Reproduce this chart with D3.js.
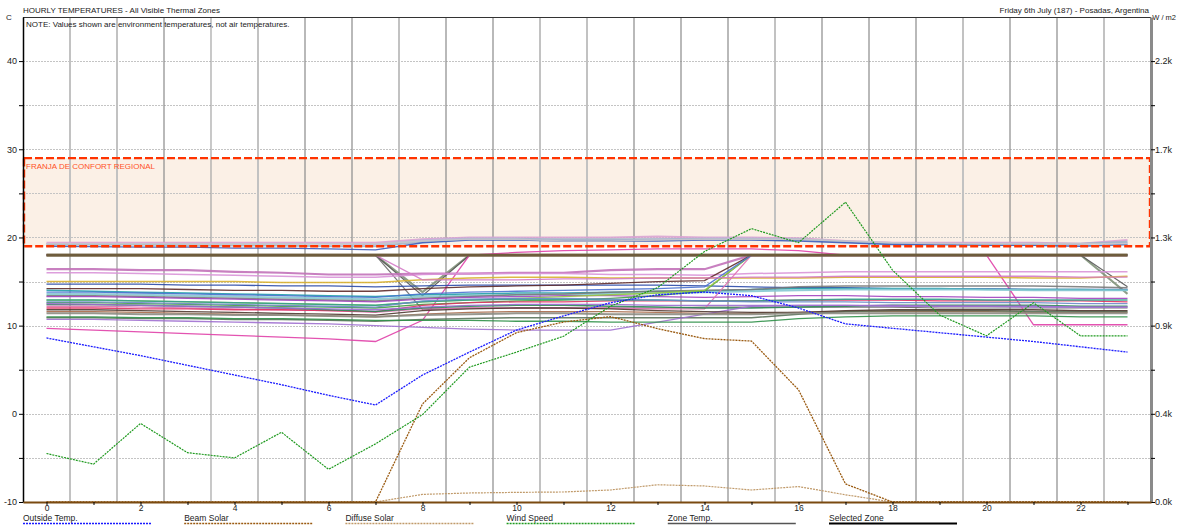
<!DOCTYPE html>
<html><head><meta charset="utf-8">
<script src="https://cdn.jsdelivr.net/npm/d3@7"></script>
<style>
html,body{margin:0;padding:0;background:#fff;}
svg{display:block;font-family:"Liberation Sans",Arial,sans-serif;}
</style></head>
<body>
<svg id="chart" width="1178" height="525"></svg>
<script>
// ---------------- DATA ----------------
const hours = d3.range(0, 24);
const xTickLabels = ["0","2","4","6","8","10","12","14","16","18","20","22"];
const leftTickValues = [-10,-5,0,5,10,15,20,25,30,35,40];
const leftTickLabels = ["-10","","0","","10","","20","","30","","40"];
const rightTickValues = [0,220,440,660,880,1100,1320,1540,1760,1980,2200];
const rightTickLabels = ["0.0k","","0.4k","","0.9k","","1.3k","","1.7k","","2.2k"];
const comfortBand = [19, 29];
const comfortLabel = "FRANJA DE CONFORT REGIONAL";

const outsideTemp = [8.6,7.6,6.6,5.5,4.4,3.3,2.1,1.0,4.4,7.0,9.5,11.1,12.6,13.5,13.8,13.4,12.0,10.2,9.7,9.2,8.7,8.2,7.6,7.0];
const beamSolar   = [0,0,0,0,0,0,0,0,489,720,845,898,925,865,815,803,560,90,0,0,0,0,0,0];
const diffuseSolar= [0,0,0,0,0,0,0,0,38,45,48,50,60,86,80,60,77,36,0,0,0,0,0,0];
const windSpeed   = [2.42,1.89,3.92,2.46,2.20,3.48,1.63,2.90,4.36,6.73,7.48,8.27,9.77,10.69,12.50,13.64,12.94,14.96,11.57,9.33,8.29,9.94,8.29,8.29];

const zoneNames = ["Z01","Z02","Z03","Z04","Z05","Z06","Z07","Z08","Z09","Z10","Z11","Z12","Z13","Z14","Z15","Z16","Z17","Z18","Z19","Z20","Z21","Z22","Z23","Z24","Z25","Z26","Z27","Z28","Z29","Z30","Z31","Z32","Z33","Z34","Z35"];
const zoneTemps = [
 [19.4,19.4,19.4,19.4,19.4,19.4,19.4,19.4,19.8,20.0,20.0,20.0,20.0,20.1,20.0,20.0,19.9,19.6,19.4,19.4,19.4,19.4,19.3,19.7],
 [19.3,19.3,19.3,19.3,19.3,19.3,19.3,19.2,19.7,19.9,19.9,19.7,19.7,19.8,19.9,19.9,19.8,19.5,19.4,19.3,19.3,19.3,19.3,19.4],
 [19.2,19.2,19.2,19.1,19.1,19.1,19.0,19.0,19.5,19.8,19.8,19.8,19.8,19.8,19.8,19.8,19.8,19.5,19.3,19.3,19.3,19.3,19.3,19.5],
 [19.0,18.95,18.9,18.9,18.8,18.8,18.7,18.6,19.4,19.7,19.7,19.6,19.6,19.6,19.7,19.7,19.6,19.4,19.2,19.2,19.1,19.1,19.0,19.2],
 [19.3,19.3,19.3,19.3,19.3,19.3,19.3,19.3,19.6,19.8,19.8,19.6,19.6,19.7,19.8,19.8,19.8,19.6,19.4,19.3,19.3,19.3,19.3,19.3],
 [18,18,18,18,18,18,18,18,18,18,18,18,18,18,18,18,18,18,18,18,18,18,18,18],
 [18,18,18,18,18,18,18,18,13.8,18,18,18,18,18,18,18,18,18,18,18,18,18,18,13.6],
 [18,18,18,18,18,18,18,18,13.4,18,18,18,18,18,18,18,18,18,18,18,18,18,18,14.4],
 [18,18,18,18,18,18,18,18,11.8,12.0,12.0,12.0,12.0,12.0,12.1,12.1,12.1,12.1,12.1,12.0,12.0,12.0,12.0,12.0],
 [9.7,9.5,9.3,9.1,8.9,8.7,8.5,8.2,10.6,18.0,18.3,18.5,18.6,18.7,18.7,18.7,18.5,18.0,18.0,18.0,18.0,10.1,10.1,10.1],
 [16.4,16.4,16.3,16.3,16.1,16.0,15.8,15.8,15.9,15.9,16.0,16.0,16.3,16.4,16.4,18,18,18,18,18,18,18,18,18],
 [16.0,16.0,15.9,15.8,15.7,15.6,15.5,15.5,15.8,15.9,15.9,15.9,15.8,15.8,15.7,15.9,16.0,16.1,16.1,16.1,16.1,16.1,16.1,16.1],
 [15.0,15.0,15.0,15.0,15.0,14.9,14.9,14.9,15.2,15.4,15.5,15.5,15.4,15.4,15.4,15.4,15.4,15.5,15.5,15.5,15.5,15.4,15.4,15.6],
 [14.7,14.7,14.7,14.6,14.6,14.5,14.5,14.4,14.5,14.6,14.6,14.6,14.6,14.6,14.5,14.4,14.3,14.3,14.2,14.2,14.2,14.1,14.1,14.1],
 [14.2,14.2,14.2,14.1,14.0,14.0,13.9,13.9,14.2,14.4,14.5,14.6,14.8,15.0,15.1,18,18,18,18,18,18,18,18,18],
 [14.0,13.9,13.8,13.7,13.6,13.5,13.4,13.3,13.5,13.6,13.7,13.7,13.8,13.9,13.9,14.1,14.2,14.2,14.2,14.2,14.1,14.1,14.1,14.0],
 [13.6,13.6,13.5,13.4,13.3,13.2,13.1,13.0,13.3,13.4,13.5,13.6,13.6,13.7,13.8,13.9,14.0,14.1,14.1,14.1,14.1,14.0,14.0,14.0],
 [13.4,13.4,13.3,13.2,13.1,13.0,12.9,12.8,13.1,13.3,13.5,13.6,13.8,13.9,14.0,14.1,14.4,14.5,14.5,14.5,14.5,14.5,14.4,14.3],
 [13.3,13.3,13.2,13.1,13.0,12.9,12.8,12.7,13.0,13.2,13.3,13.4,13.4,13.3,13.2,13.3,13.4,13.4,13.3,13.3,13.2,13.2,13.1,13.1],
 [12.6,12.6,12.5,12.4,12.3,12.2,12.1,12.0,12.4,12.6,12.8,12.9,13.1,13.4,13.9,18,18,18,18,18,18,18,18,18],
 [12.9,12.9,12.8,12.7,12.6,12.5,12.4,12.3,12.7,12.9,13.1,13.3,13.5,13.7,14.0,18,18,18,18,18,18,18,18,18],
 [12.2,12.2,12.1,12.0,11.9,11.8,11.7,11.5,11.9,12.0,12.0,12.0,12.0,11.9,11.9,18,18,18,18,18,18,18,18,18],
 [13.8,13.8,13.7,13.6,13.5,13.4,13.3,13.2,13.6,13.8,13.9,14.0,14.1,14.2,14.4,18,18,18,18,18,18,18,18,18],
 [12.0,12.0,11.9,11.9,11.8,11.8,11.7,11.6,12.3,12.6,12.7,12.7,12.8,12.8,12.8,12.8,12.9,12.9,12.9,12.8,12.8,12.8,12.8,12.7],
 [12.4,12.4,12.3,12.2,12.1,12.0,11.8,11.6,12.0,12.2,12.3,12.3,12.2,12.1,12.0,12.0,12.1,12.2,12.3,12.3,12.3,12.3,12.2,12.2],
 [12.9,12.9,12.8,12.7,12.6,12.5,12.4,12.3,12.7,12.9,13.0,13.0,12.9,12.9,12.8,12.8,12.9,13.0,13.0,13.0,12.9,12.9,12.9,12.9],
 [12.7,12.7,12.6,12.5,12.4,12.3,12.2,12.1,12.8,13.0,13.1,13.1,13.0,12.9,12.8,12.7,12.7,12.7,12.6,12.6,12.6,12.6,12.5,12.5],
 [12.5,12.4,12.3,12.2,12.1,12.0,11.9,11.8,12.1,12.3,12.4,12.4,12.4,12.3,12.3,12.3,12.3,12.3,12.3,12.2,12.2,12.2,12.1,12.1],
 [11.6,11.6,11.5,11.4,11.3,11.2,11.1,11.0,11.3,11.5,11.6,11.6,11.6,11.5,11.4,11.4,11.5,11.6,11.6,11.6,11.6,11.5,11.5,11.5],
 [10.9,10.9,10.8,10.8,10.7,10.7,10.6,10.5,10.7,10.8,10.9,10.9,10.9,10.9,10.9,10.9,11.3,11.6,11.7,11.7,11.7,11.6,11.6,11.6],
 [10.7,10.7,10.6,10.5,10.4,10.3,10.2,10.0,9.8,9.6,9.5,9.5,9.5,10.4,11.3,12.2,12.3,12.3,12.2,12.2,12.2,12.1,12.1,12.1],
 [11.8,11.8,11.7,11.6,11.5,11.4,11.3,11.2,11.7,11.9,12.0,12.0,11.9,11.7,11.6,11.5,11.5,11.7,11.8,11.8,11.8,11.8,11.7,11.7],
 [11.4,11.4,11.3,11.3,11.2,11.2,11.1,11.0,11.2,11.3,11.4,11.4,11.3,11.3,11.3,11.3,11.4,11.4,11.4,11.4,11.4,11.4,11.4,11.4],
 [11.0,11.0,10.9,10.9,10.8,10.8,10.7,10.6,10.6,10.6,10.5,10.5,10.4,10.4,10.4,10.4,10.8,11.0,11.1,11.1,11.1,11.1,11.0,11.0],
 [18,18,18,18,18,18,18,18,15.2,15.2,15.2,15.3,15.3,15.4,15.4,15.5,15.5,15.6,15.6,15.6,15.6,15.6,15.5,15.5]
];
const legendItems = ["Outside Temp.","Beam Solar","Diffuse Solar","Wind Speed","Zone Temp.","Selected Zone"];

// ---------------- STYLES ----------------
const zoneColors = ["#d9a3d3","#bdb3dc","#a3b5ca","#3a5bbb","#c6c6cc","#6e5c3c","#82937a","#555555","#6a6a6a","#e040a8",
 "#c272b9","#d994d8","#d8b030","#2a4aa8","#5e2a2a","#22a0a8","#86c8d2","#7a7a7a","#a244c0","#42a042",
 "#98c840","#e070b0","#4a72d0","#e03262","#2f8858","#32a08a","#6a8ac8","#9a6ad0","#a96a4a","#5a725a",
 "#a070d0","#503830","#8c8c82","#2f9048","#d47ac6"];
const zoneWidths = [2,1.5,2,1.3,1.5,2.6,2,1.2,1.2,1.3,2.2,1.5,1.5,1.3,1.3,1.5,2,1.5,1.3,1.3,1.3,1.3,1.3,1.3,1.5,1.5,1.3,1.3,1.3,1.5,1.3,1.3,2,1.3,1.3];
const gridShade = ["L","L","D","M","L","D","D","L","D","D","L","L","D","D","D","L","D","D","D","L","D","D","L"];

const svg = d3.select("#chart");
const pLeft = 23, pRight = 1151, pTop = 17, pBottom = 502;

const x = d3.scaleLinear().domain([-0.5, 23.5]).range([pLeft, pRight]);
const yT = d3.scaleLinear().domain([-10, 45]).range([pBottom, pTop]);
const yW = d3.scaleLinear().domain([0, 2420]).range([pBottom, pTop]);
const yWind = d3.scaleLinear().domain([0, 24.2]).range([pBottom, pTop]);

// comfort band fill
svg.append("rect")
  .attr("x", pLeft).attr("width", pRight - pLeft)
  .attr("y", yT(comfortBand[1])).attr("height", yT(comfortBand[0]) - yT(comfortBand[1]))
  .attr("fill", "#fbf0e6");

// horizontal dotted gridlines
svg.append("g").selectAll("line").data(leftTickValues).join("line")
  .attr("x1", pLeft).attr("x2", pRight)
  .attr("y1", d => Math.round(yT(d)) + 0.5).attr("y2", d => Math.round(yT(d)) + 0.5)
  .attr("stroke", "#c4c4c4").attr("stroke-width", 1).attr("stroke-dasharray", "2,1");

// vertical half-hour lines
svg.append("g").selectAll("line").data(d3.range(1, 24)).join("line")
  .attr("x1", d => x(d - 0.5)).attr("x2", d => x(d - 0.5))
  .attr("y1", pTop).attr("y2", pBottom)
  .attr("stroke", (d, i) => gridShade[i] === "L" ? "#c2c2c2" : gridShade[i] === "M" ? "#a4a4a4" : "#8a8a8a")
  .attr("stroke-width", (d, i) => gridShade[i] === "L" ? 2 : 1.2);

// band label
svg.append("text").attr("x", pLeft + 3).attr("y", yT(comfortBand[1]) + 11)
  .attr("font-size", 8).attr("fill", "#ff5226").text(comfortLabel);

// zone lines
const lineT = d3.line().x((d, i) => x(hours[i])).y(d => yT(d));
svg.append("g").selectAll("path").data(zoneTemps).join("path")
  .attr("d", lineT).attr("fill", "none")
  .attr("stroke", (d, i) => zoneColors[i])
  .attr("stroke-width", (d, i) => zoneWidths[i])
  .attr("stroke-opacity", 0.9);

// redraw the 18° main line on top
svg.append("path").datum(zoneTemps[5]).attr("d", lineT).attr("fill", "none")
  .attr("stroke", zoneColors[5]).attr("stroke-width", 2.6);

// weather lines
const lineW = d3.line().x((d, i) => x(hours[i])).y(d => yW(d));
const lineWind = d3.line().x((d, i) => x(hours[i])).y(d => yWind(d));
svg.append("path").datum(diffuseSolar).attr("d", lineW).attr("fill", "none")
  .attr("stroke", "#c09a6a").attr("stroke-width", 1.2).attr("stroke-dasharray", "2,1");
svg.append("path").datum(beamSolar).attr("d", lineW).attr("fill", "none")
  .attr("stroke", "#9a5a10").attr("stroke-width", 1.3).attr("stroke-dasharray", "2,1");
svg.append("path").datum(windSpeed).attr("d", lineWind).attr("fill", "none")
  .attr("stroke", "#1f9a1f").attr("stroke-width", 1.2).attr("stroke-dasharray", "2,1");
svg.append("path").datum(outsideTemp).attr("d", lineT).attr("fill", "none")
  .attr("stroke", "#1a1aff").attr("stroke-width", 1.3).attr("stroke-dasharray", "2,1");

// comfort band border
svg.append("rect")
  .attr("x", pLeft + 1).attr("width", pRight - pLeft - 2)
  .attr("y", yT(comfortBand[1])).attr("height", yT(comfortBand[0]) - yT(comfortBand[1]))
  .attr("fill", "none").attr("stroke", "#ff3300").attr("stroke-width", 2.4).attr("stroke-dasharray", "8,3");

// top border
svg.append("line").attr("x1", pLeft).attr("x2", pRight).attr("y1", pTop + 0.5).attr("y2", pTop + 0.5)
  .attr("stroke", "#333").attr("stroke-width", 1);

// axes
const axL = svg.append("g").attr("transform", `translate(${pLeft},0)`)
  .call(d3.axisLeft(yT).tickValues(leftTickValues).tickFormat((d, i) => leftTickLabels[i]).tickSize(4).tickSizeOuter(0));
axL.select(".domain").attr("stroke", "#000").attr("stroke-width", 1.5);
axL.selectAll("text").attr("font-size", 9).attr("fill", "#222").attr("x", -6);

const axR = svg.append("g").attr("transform", `translate(${pRight},0)`)
  .call(d3.axisRight(yW).tickValues(rightTickValues).tickFormat((d, i) => rightTickLabels[i]).tickSize(4).tickSizeOuter(0));
axR.select(".domain").attr("stroke", "#8a8a8a").attr("stroke-width", 3);
axR.selectAll("text").attr("font-size", 9).attr("fill", "#222").attr("x", 4);

const axB = svg.append("g").attr("transform", `translate(0,${pBottom})`)
  .call(d3.axisBottom(x).tickValues(hours).tickFormat(d => d % 2 === 0 ? xTickLabels[d / 2] : "").tickSize(3).tickSizeOuter(0));
axB.select(".domain").attr("stroke", "#7a4a10").attr("stroke-width", 2);
axB.selectAll("text").attr("font-size", 8.5).attr("fill", "#222").attr("y", 2.5);

// titles
svg.append("text").attr("x", pLeft).attr("y", 12.5).attr("font-size", 8).attr("fill", "#222")
  .text("HOURLY TEMPERATURES - All Visible Thermal Zones");
svg.append("text").attr("x", 6).attr("y", 20).attr("font-size", 8).attr("fill", "#222").text("C");
svg.append("text").attr("x", pLeft + 3).attr("y", 26.5).attr("font-size", 8).attr("fill", "#222")
  .text("NOTE: Values shown are environment temperatures, not air temperatures.");
svg.append("text").attr("x", pRight - 2).attr("y", 12.5).attr("text-anchor", "end").attr("font-size", 8).attr("fill", "#222")
  .text("Friday 6th July (187) - Posadas, Argentina");
svg.append("text").attr("x", 1176).attr("y", 19.5).attr("text-anchor", "end").attr("font-size", 7.5).attr("fill", "#222").text("W / m2");

// legend
const legColors = ["#1a1aff","#9a5a10","#c09a6a","#1f9a1f","#555","#000"];
const legDash = ["2,1","2,1","2,1","2,1",null,null];
const legWidth = [1.3,1.3,1.3,1.3,1.5,2];
const leg = svg.append("g").selectAll("g").data(legendItems).join("g")
  .attr("transform", (d, i) => `translate(${pLeft + i * 161.2},0)`);
leg.append("text").attr("y", 521).attr("font-size", 8.5).attr("fill", "#222").text(d => d);
leg.append("line").attr("x1", 0).attr("x2", 128).attr("y1", 523.5).attr("y2", 523.5)
  .attr("stroke", (d, i) => legColors[i]).attr("stroke-width", (d, i) => legWidth[i])
  .attr("stroke-dasharray", (d, i) => legDash[i]);
</script>
</body></html>
